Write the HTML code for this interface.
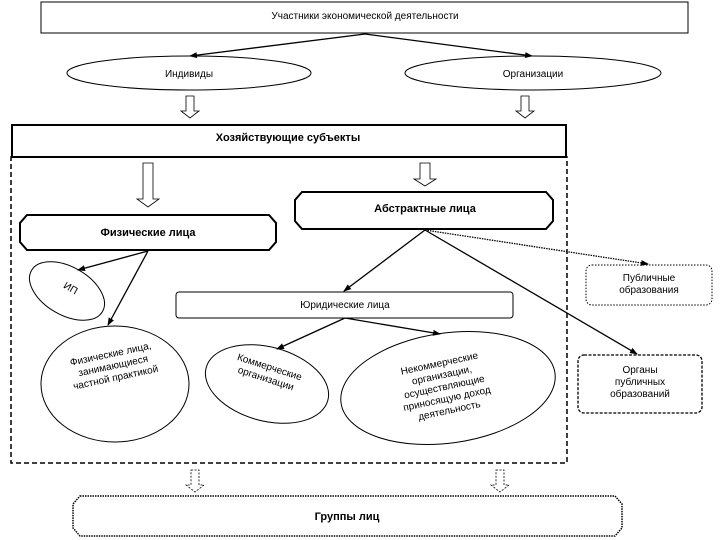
<!DOCTYPE html>
<html><head><meta charset="utf-8"><style>
body{margin:0;background:#fff}
svg{display:block}
text{font-family:"Liberation Sans",sans-serif;font-size:10px;fill:#000}
.b{font-weight:bold;font-size:11px}
</style></head><body>
<svg width="720" height="540" viewBox="0 0 720 540">
<defs>
<marker id="a" markerWidth="8" markerHeight="8" refX="7" refY="4" orient="auto" markerUnits="userSpaceOnUse"><path d="M0,1 L8,4 L0,7 Z" fill="#000"/></marker>
</defs>
<g fill="#fff" stroke="#000">
<rect x="41" y="2" width="647" height="31" stroke-width="1"/>
<ellipse cx="189" cy="73" rx="122" ry="17"/>
<ellipse cx="533" cy="73" rx="128" ry="17"/>
<path d="M186,96 h8 v15 h5 l-9,7 l-9,-7 h5z" stroke-width="0.8"/>
<path d="M521,96 h8 v15 h5 l-9,7 l-9,-7 h5z" stroke-width="0.8"/>
<rect x="12" y="125" width="554" height="32" stroke-width="2"/>
<rect x="11" y="157" width="556" height="306" fill="none" stroke-width="1.5" stroke-dasharray="5,3"/>
<path d="M143,163 h10 v36 h6 l-11,8 l-11,-8 h6z" stroke-width="0.8"/>
<path d="M420,163 h10 v16 h6 l-11,7 l-11,-7 h6z" stroke-width="0.8"/>
<path d="M302,192 h244 l7,8 v21 l-7,8 h-244 l-7,-8 v-21z" stroke-width="2"/>
<path d="M27,215 h242 l7,8 v19 l-7,8 h-242 l-7,-8 v-19z" stroke-width="2"/>
<ellipse cx="67" cy="291" rx="41" ry="24" transform="rotate(30 67 291)"/>
<rect x="176" y="292" width="337" height="26" rx="3"/>
<ellipse cx="115" cy="384" rx="74" ry="58"/>
<ellipse cx="267" cy="384" rx="63" ry="37" transform="rotate(15 267 384)"/>
<ellipse cx="448" cy="388" rx="108" ry="55" transform="rotate(-8 448 388)"/>
<rect x="586" y="265" width="126" height="40" rx="6" stroke-dasharray="1.5,1.5"/>
<rect x="578" y="355" width="124" height="58" rx="6" stroke-dasharray="3,1.5" stroke-width="1.3"/>
<path d="M191,470 h8 v15 h5 l-9,7 l-9,-7 h5z" stroke-width="0.8" stroke-dasharray="2,1.5"/>
<path d="M496,470 h8 v15 h5 l-9,7 l-9,-7 h5z" stroke-width="0.8" stroke-dasharray="2,1.5"/>
<path d="M80,496 h535 l7,8 v24 l-7,8 h-535 l-7,-8 v-24z" stroke-width="1.5" stroke-dasharray="1.5,1"/>
</g>
<g stroke="#000" stroke-width="1.3" fill="none">
<line x1="365" y1="34" x2="190" y2="56" marker-end="url(#a)"/>
<line x1="365" y1="34" x2="532" y2="56" marker-end="url(#a)"/>
<line x1="148" y1="251" x2="78" y2="270" marker-end="url(#a)"/>
<line x1="148" y1="251" x2="108" y2="325" marker-end="url(#a)"/>
<line x1="425" y1="230" x2="344" y2="291" marker-end="url(#a)"/>
<line x1="425" y1="230" x2="637" y2="354" marker-end="url(#a)"/>
<line x1="425" y1="230" x2="648" y2="264" stroke-dasharray="1.5,1" marker-end="url(#a)"/>
<line x1="345" y1="318" x2="277" y2="349" marker-end="url(#a)"/>
<line x1="345" y1="318" x2="440" y2="334" marker-end="url(#a)"/>
</g>
<text x="365" y="19" text-anchor="middle">Участники экономической деятельности</text>
<text x="189" y="77" text-anchor="middle">Индивиды</text>
<text x="533" y="77" text-anchor="middle">Организации</text>
<text x="288" y="141" text-anchor="middle" class="b">Хозяйствующие субъекты</text>
<text x="425" y="212" text-anchor="middle" class="b">Абстрактные лица</text>
<text x="148" y="236" text-anchor="middle" class="b">Физические лица</text>
<text x="69" y="291" text-anchor="middle" transform="rotate(30 69 291)">ИП</text>
<text x="345" y="308" text-anchor="middle">Юридические лица</text>
<text x="649" y="281" text-anchor="middle">Публичные</text>
<text x="649" y="293" text-anchor="middle">образования</text>
<text x="640" y="373" text-anchor="middle">Органы</text>
<text x="640" y="385" text-anchor="middle">публичных</text>
<text x="640" y="397" text-anchor="middle">образований</text>
<g transform="rotate(-12 113 365)">
<text x="113" y="357" text-anchor="middle">Физические лица,</text>
<text x="113" y="369" text-anchor="middle">занимающиеся</text>
<text x="113" y="381" text-anchor="middle">частной практикой</text>
</g>
<g transform="rotate(18 268 372)">
<text x="268" y="370" text-anchor="middle">Коммерческие</text>
<text x="268" y="382" text-anchor="middle">организации</text>
</g>
<g transform="rotate(-12 445 390)">
<text x="445" y="366" text-anchor="middle">Некоммерческие</text>
<text x="445" y="378" text-anchor="middle">организации,</text>
<text x="445" y="390" text-anchor="middle">осуществляющие</text>
<text x="445" y="402" text-anchor="middle">приносящую доход</text>
<text x="445" y="414" text-anchor="middle">деятельность</text>
</g>
<text x="347" y="520" text-anchor="middle" class="b">Группы лиц</text>
</svg>
</body></html>
